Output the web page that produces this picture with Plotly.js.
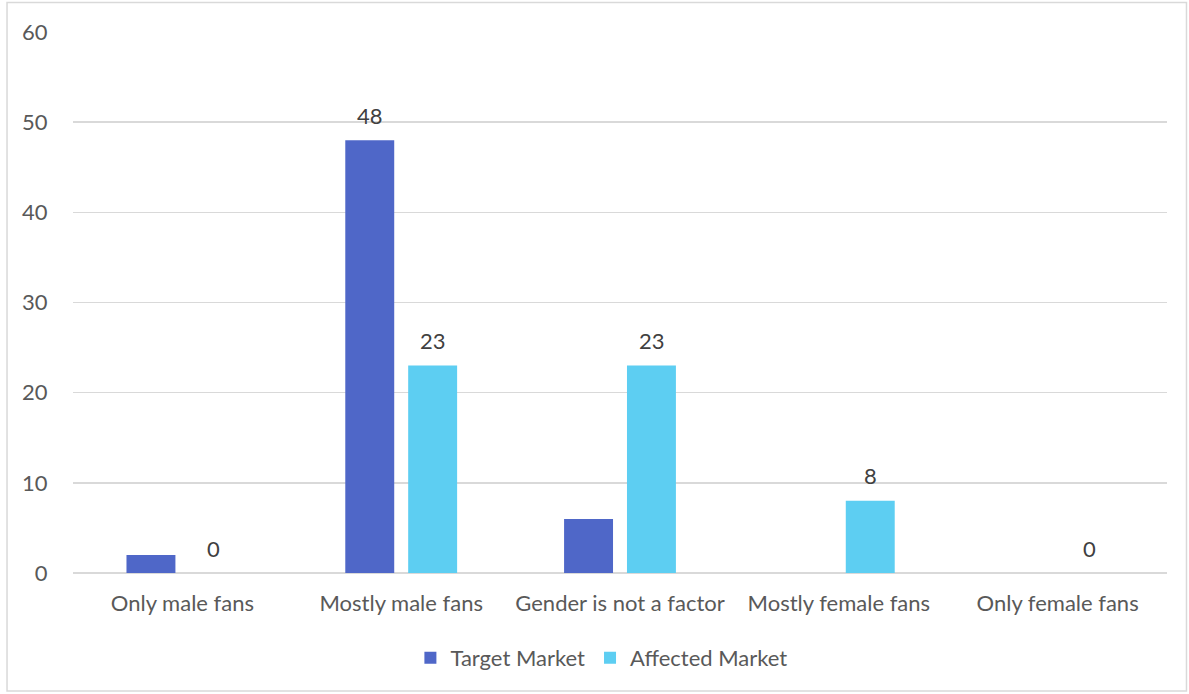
<!DOCTYPE html>
<html><head><meta charset="utf-8">
<script src="https://cdn.plot.ly/plotly-3.0.1.min.js"></script>
<style>html,body{margin:0;padding:0;background:#fff;}#chart{width:1189px;height:694px;}</style>
</head><body><div id="chart"></div>
<script>
const categories = ["Only male fans", "Mostly male fans", "Gender is not a factor", "Mostly female fans", "Only female fans"];
const targetMarket = [2, 48, 6, 0, 0];
const affectedMarket = [0, 23, 23, 8, 0];
const targetLabels = ["", "48", "", "", ""];
const affectedLabels = ["0", "23", "23", "8", "0"];
const yTicks = [0, 10, 20, 30, 40, 50, 60];

const font = "Lato, sans-serif";
const traces = [
  {type: "bar", name: "Target Market", x: categories, y: targetMarket,
   marker: {color: "#4F67C8"}, hoverinfo: "x+y"},
  {type: "bar", name: "Affected Market", x: categories, y: affectedMarket,
   marker: {color: "#5DCEF2"}, hoverinfo: "x+y"}
];
const annotations = [];
function addLabels(vals, labels, xshift) {
  vals.forEach((v, i) => {
    if (!labels[i]) return;
    annotations.push({x: categories[i], y: v, xref: "x", yref: "y", text: labels[i],
      showarrow: false, xshift: xshift, yshift: 25, yanchor: "middle", xanchor: "center",
      font: {family: font, size: 22, color: "#404040"}});
  });
}
addLabels(targetMarket, targetLabels, -31.5);
addLabels(affectedMarket, affectedLabels, 31.5);

const layout = {
  width: 1189, height: 694,
  margin: {l: 73, r: 22, t: 32, b: 121},
  paper_bgcolor: "#ffffff", plot_bgcolor: "#ffffff",
  font: {family: font, size: 22, color: "#595959"},
  barmode: "group", bargap: 0.425, bargroupgap: 0.222,
  showlegend: true,
  legend: {orientation: "h", x: 0.483, xanchor: "center", y: -0.157, yanchor: "middle",
           itemwidth: 30, font: {family: font, size: 22, color: "#595959"}, traceorder: "normal"},
  xaxis: {type: "category", showgrid: false, showline: false, zeroline: false,
          ticks: "outside", ticklen: 11, tickcolor: "rgba(0,0,0,0)",
          tickfont: {family: font, size: 22, color: "#595959"}},
  yaxis: {range: [0, 60], tickvals: yTicks, showgrid: true, gridcolor: "#d9d9d9", gridwidth: 1.5,
          zeroline: true, zerolinecolor: "#d9d9d9", zerolinewidth: 1.5, showline: false,
          ticks: "outside", ticklen: 20, tickcolor: "rgba(0,0,0,0)",
          tickfont: {family: font, size: 22, color: "#595959"}},
  annotations: annotations,
  shapes: [{type: "rect", xref: "paper", yref: "paper",
            x0: -0.0603, x1: 1.0178, y0: -0.218, y1: 1.0545,
            line: {color: "#d9d9d9", width: 1.5}, fillcolor: "rgba(0,0,0,0)", layer: "below"}]
};
Plotly.newPlot("chart", traces, layout, {displayModeBar: false, staticPlot: true});
</script></body></html>
